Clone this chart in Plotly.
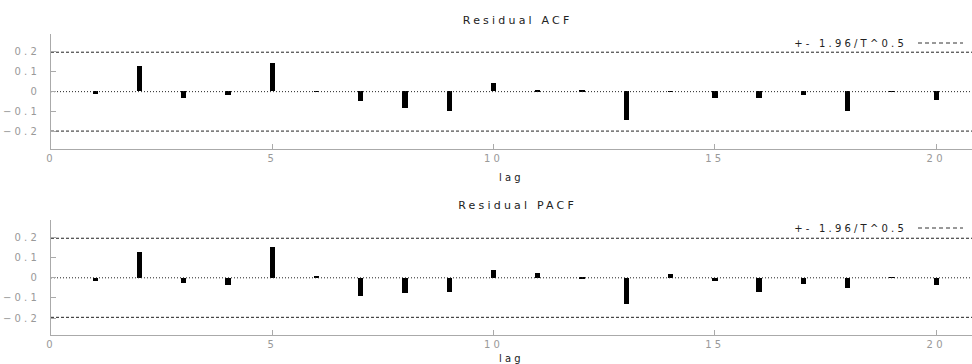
import plotly.graph_objects as go

lags = list(range(1, 21))
acf = [-0.015, 0.125, -0.031, -0.020, 0.142, -0.003, -0.048, -0.083, -0.096, 0.043,
       0.005, 0.004, -0.142, 0.001, -0.033, -0.033, -0.020, -0.096, -0.002, -0.043]
pacf = [-0.017, 0.125, -0.028, -0.038, 0.150, 0.003, -0.093, -0.079, -0.074, 0.036,
        0.023, -0.003, -0.131, 0.018, -0.017, -0.073, -0.033, -0.053, 0.002, -0.038]
band = 0.196
titles = ["Residual ACF", "Residual PACF"]
legend_text = "+- 1.96/T^0.5"
x_ticks = [0, 5, 10, 15, 20]
y_ticks = [-0.2, -0.1, 0, 0.1, 0.2]
y_ticklabels = ["\u22120.2", "\u22120.1", "0", "0.1", "0.2"]

W, H = 972, 364
FONT = "DejaVu Sans"
FS = 10
xmax = 20.81

fig = go.Figure()
domains = [[1 - 149 / H, 1 - 34.3 / H], [1 - 335.3 / H, 1 - 220.3 / H]]
series = [acf, pacf]
for i, vals in enumerate(series):
    xa = "x" if i == 0 else "x2"
    ya = "y" if i == 0 else "y2"
    fig.add_trace(go.Bar(x=lags, y=vals, base=0, width=0.12, marker=dict(color="black", line=dict(width=0)),
                         xaxis=xa, yaxis=ya, showlegend=False))
    for v in (band, -band):
        fig.add_trace(go.Scatter(x=[0, xmax], y=[v, v], mode="lines",
                                 line=dict(color="#222222", width=1, dash="3px,2px"),
                                 xaxis=xa, yaxis=ya, showlegend=False, hoverinfo="skip"))
    fig.add_trace(go.Scatter(x=[0, xmax], y=[0, 0], mode="lines",
                             line=dict(color="#222222", width=1, dash="1px,2px"),
                             xaxis=xa, yaxis=ya, showlegend=False, hoverinfo="skip"))

axis_common = dict(showgrid=False, zeroline=False, showline=True, linecolor="#aaaaaa", linewidth=1,
                   ticks="inside", ticklen=5, tickcolor="#aaaaaa",
                   tickfont=dict(family=FONT, size=FS, color="#999999"))
for i in range(2):
    sx = "" if i == 0 else "2"
    fig.update_layout(**{
        "xaxis" + sx: dict(axis_common, domain=[0, 1], range=[0, xmax], tickvals=x_ticks,
                           anchor="y" + sx, automargin=False,
                           title=dict(text="lag", font=dict(family=FONT, size=FS, color="#222222"), standoff=10)),
        "yaxis" + sx: dict(axis_common, domain=domains[i], range=[-0.285, 0.285], tickvals=y_ticks,
                           ticktext=y_ticklabels, anchor="x" + sx, automargin=False,
                           ticklabelstandoff=8),
    })

for i in range(2):
    top_px = [20, 205][i]
    fig.add_annotation(text=titles[i], xref="paper", yref="paper", x=(517 - 51) / (W - 51),
                       y=1 - top_px / H, showarrow=False, xanchor="center", yanchor="middle",
                       font=dict(family=FONT, size=11, color="#222222"))
    lg_px = [43, 228][i]
    fig.add_annotation(text=legend_text, xref="paper", yref="paper", x=(850 - 51) / (W - 51),
                       y=1 - lg_px / H, showarrow=False, xanchor="center", yanchor="middle",
                       font=dict(family=FONT, size=FS, color="#222222"))
    fig.add_shape(type="line", xref="paper", yref="paper",
                  x0=(918 - 51) / (W - 51), x1=(963 - 51) / (W - 51),
                  y0=1 - lg_px / H, y1=1 - lg_px / H,
                  line=dict(color="#333333", width=1, dash="4px,3px"))

fig.update_layout(width=W, height=H, margin=dict(l=51, r=0, t=0, b=0),
                  plot_bgcolor="white", paper_bgcolor="white", bargap=0)

post = """
var st = document.createElement('style');
st.textContent = '.main-svg text { letter-spacing: 3.2px; }';
document.head.appendChild(st);
"""
fig.write_html("out.html", post_script=post)
